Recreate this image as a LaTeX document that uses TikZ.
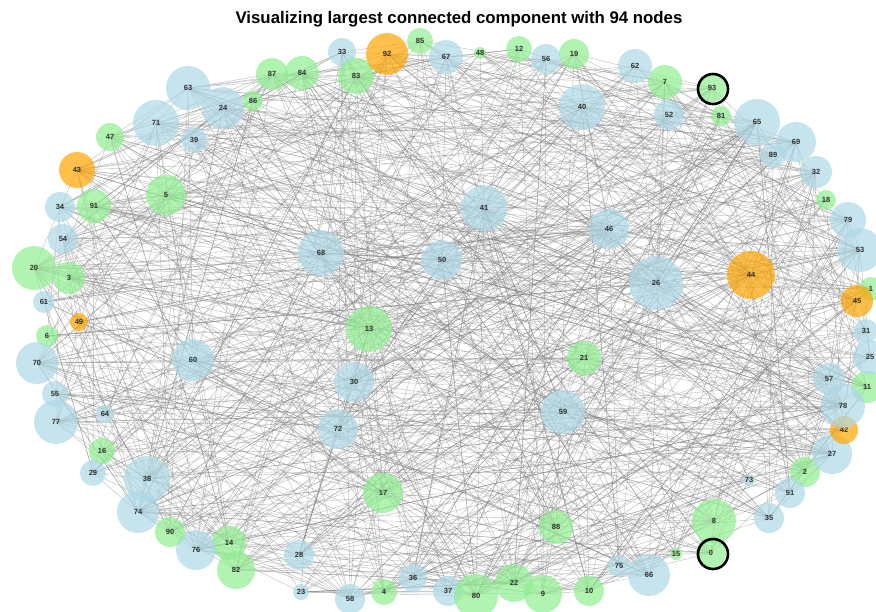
\documentclass[tikz,border=0pt]{standalone}
\usepackage{fontspec}
\setmainfont{Liberation Sans}
\pgfdeclarelayer{background}
\pgfsetlayers{background,main}
\definecolor{bl}{HTML}{ADD8E6}
\definecolor{gn}{HTML}{90EE90}
\definecolor{og}{HTML}{FFA500}
\definecolor{labelgray}{HTML}{333333}
\tikzset{
  vertex/.style={circle, inner sep=0pt, fill=#1, fill opacity=0.7, text opacity=1,
    text=labelgray, font=\fontsize{7.5}{8}\selectfont\bfseries},
  edge/.style={draw=gray, draw opacity=0.5, line width=0.45pt},
  ring/.style={circle, draw=black, line width=2.6pt, inner sep=0pt, minimum size=30pt}
}
\def\graphnodes{0/711/553/15/gn, 1/871/289/12/gn, 2/805/472/15/gn, 3/69/278/16/gn,
  4/384/592/13/gn, 5/166/195/20/gn, 6/47/336/11/gn, 7/665/82/17/gn, 8/714/521/22/gn,
  9/543/594/19/gn, 10/589/591/15/gn, 11/867/387/16/gn, 12/519/49/13/gn, 13/369/329/23/gn,
  14/229/543/17/gn, 15/676/554/6/gn, 16/102/451/13/gn, 17/383/493/20/gn, 18/826/200/10/gn,
  19/574/54/15/gn, 20/34/268/22/gn, 21/584/358/17/gn, 22/514/583/19/gn, 23/301/592/8/bl,
  24/223/108/21/bl, 25/870/357/17/bl, 26/656/283/27/bl, 27/832/454/20/bl, 28/299/555/15/bl,
  29/93/473/13/bl, 30/354/382/20/bl, 31/866/331/12/bl, 32/816/172/16/bl, 33/342/52/14/bl,
  34/60/207/15/bl, 35/769/518/15/bl, 36/413/578/14/bl, 37/448/591/15/bl, 38/147/479/23/bl,
  39/194/140/13/bl, 40/582/107/23/bl, 41/484/208/23/bl, 42/844/430/14/og, 43/77/170/18/og,
  44/751/275/24/og, 45/857/301/16/og, 46/609/229/20/bl, 47/110/137/14/gn, 48/480/53/6/gn,
  49/79/322/9/og, 50/442/260/20/bl, 51/790/493/15/bl, 52/669/115/15/bl, 53/860/250/22/bl,
  54/63/239/15/bl, 55/55/394/13/bl, 56/546/59/15/bl, 57/829/379/16/bl, 58/350/599/15/bl,
  59/563/412/22/bl, 60/193/360/21/bl, 61/44/302/11/bl, 62/635/66/17/bl, 63/188/88/22/bl,
  64/105/414/9/bl, 65/757/122/23/bl, 66/649/575/21/bl, 67/446/57/17/bl, 68/321/253/23/bl,
  69/796/142/20/bl, 70/37/363/21/bl, 71/156/123/23/bl, 72/338/429/20/bl, 73/749/480/6/bl,
  74/138/512/21/bl, 75/619/566/11/bl, 76/196/550/20/bl, 77/56/422/22/bl, 78/843/406/22/bl,
  79/848/220/18/bl, 80/476/596/22/gn, 81/721/116/10/gn, 82/236/570/19/gn, 83/356/76/18/gn,
  84/302/73/17/gn, 85/420/41/13/gn, 86/253/101/10/gn, 87/272/74/16/gn, 88/556/527/17/gn,
  89/773/155/13/bl, 90/170/532/15/gn, 91/94/206/17/gn, 92/387/54/21/og, 93/712/88/14/gn}
\begin{document}
\begin{tikzpicture}[x=1pt, y=-1pt]
\useasboundingbox (0,0) rectangle (876,611);
\node[font=\fontsize{16.8}{18}\selectfont\bfseries] (title) at (459,19)
  {Visualizing largest connected component with 94 nodes};
\foreach \id/\px/\py/\rad/\col in \graphnodes
  \node[vertex=\col, minimum size={2*\rad pt}] (n\id) at (\px,\py) {\id};
\node[ring] (ring93) at (713,89) {};
\node[ring] (ring0) at (713,554) {};
\begin{pgfonlayer}{background}
\pgfmathsetseed{2024}
\foreach \id/\px/\py/\rad/\col in \graphnodes {
  \pgfmathtruncatemacro\cnt{max(1,round(\rad*\rad/28))}
  \foreach \k in {1,...,\cnt} {
    \pgfmathtruncatemacro\j{random(0,93)}
    \draw[edge] (n\id.center) -- (n\j.center);
  }
}
\end{pgfonlayer}
\end{tikzpicture}
\end{document}
